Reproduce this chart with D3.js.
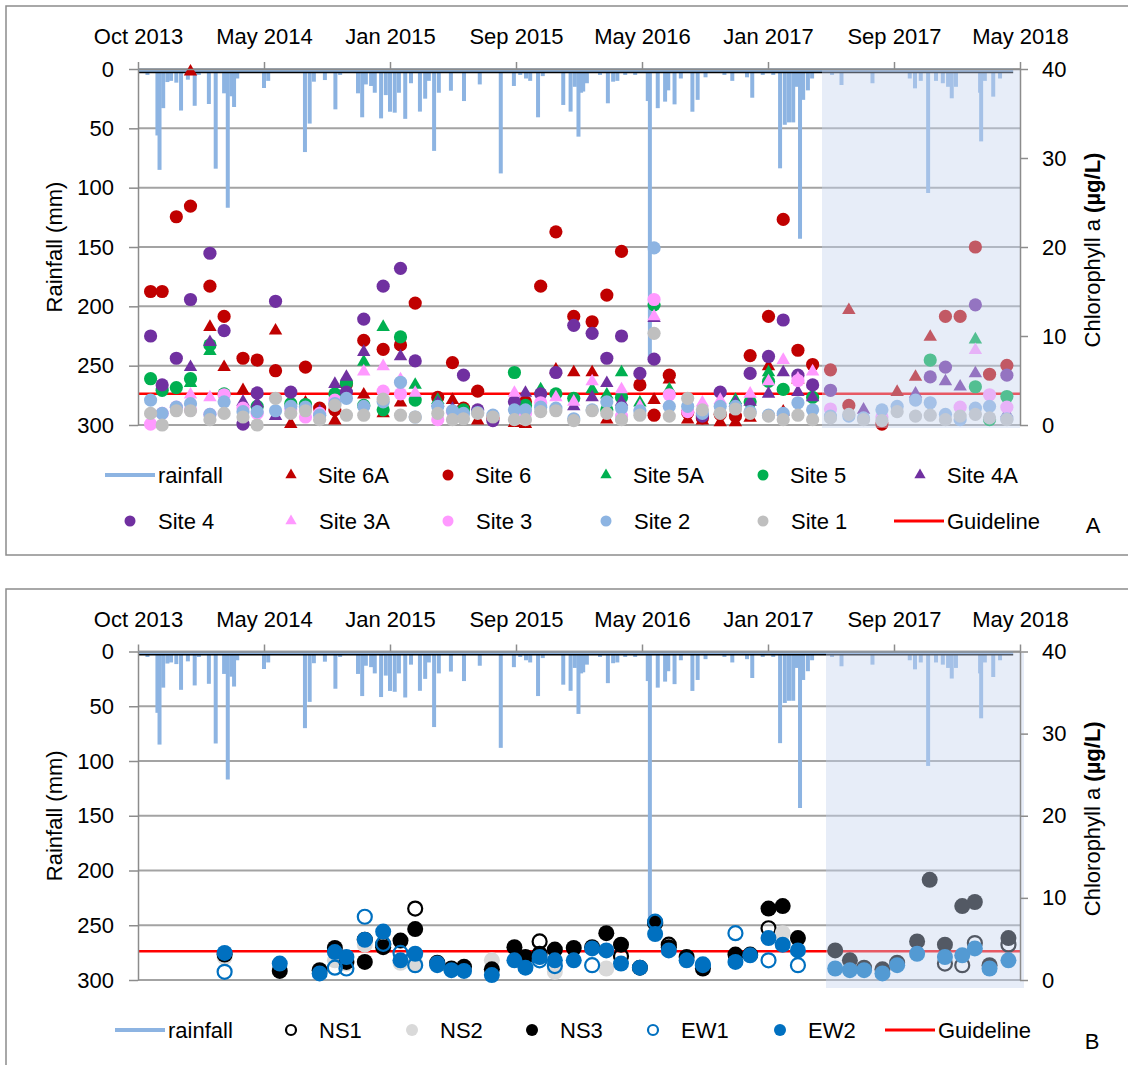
<!DOCTYPE html>
<html>
<head>
<meta charset="utf-8">
<script src="https://cdn.jsdelivr.net/npm/d3@7"></script>
<style>
  body { margin: 0; background: #ffffff; }
  text { font-family: "Liberation Sans", Arial, sans-serif; fill: #000; }
</style>
</head>
<body>
<svg id="chart" width="1128" height="1065"></svg>
<script>
// ---------- axis ticks ----------
const xTicks = ["2013-10-01","2014-05-29","2015-01-24","2015-09-21","2016-05-18","2017-01-13","2017-09-10","2018-05-08"];
const rainTicks = [0, 50, 100, 150, 200, 250, 300];
const chlTicks = [0, 10, 20, 30, 40];
const guideline = 3.5; // µg/L

// ---------- daily rainfall events (mm) ----------
const rainDates = ["2013-10-01","2013-10-19","2013-11-07","2013-11-11","2013-11-18","2013-11-26","2013-12-03","2013-12-13","2013-12-22",
  "2014-01-04","2014-01-17","2014-01-25","2014-02-13","2014-02-26","2014-03-14","2014-03-21","2014-03-28","2014-04-02","2014-04-08",
  "2014-05-29","2014-06-06","2014-08-15","2014-08-24","2014-09-01","2014-09-22","2014-10-12","2014-10-21","2014-11-24","2014-12-02",
  "2014-12-09","2014-12-19","2014-12-26","2015-01-07","2015-01-16","2015-01-24","2015-02-02","2015-02-10","2015-02-22","2015-03-05",
  "2015-03-22","2015-04-01","2015-04-08","2015-04-18","2015-04-27","2015-05-20","2015-06-14","2015-07-14","2015-08-23","2015-09-17",
  "2015-09-29","2015-10-10","2015-10-18","2015-11-02","2015-11-11","2015-12-20","2016-01-03","2016-01-11","2016-01-18","2016-01-23",
  "2016-01-27","2016-02-03","2016-02-28","2016-03-14","2016-03-24","2016-04-01","2016-04-16","2016-05-05","2016-05-29","2016-06-02",
  "2016-06-17","2016-07-01","2016-07-07","2016-07-19","2016-07-31","2016-08-22","2016-09-01","2016-09-16","2016-10-22","2016-11-06",
  "2016-12-04","2016-12-14","2017-01-03","2017-01-23","2017-02-05","2017-02-14","2017-02-22","2017-03-02","2017-03-09","2017-03-15",
  "2017-03-21","2017-03-30","2017-04-07","2017-05-15","2017-06-02","2017-07-31","2017-10-10","2017-10-20","2017-10-31","2017-11-14",
  "2017-11-29","2017-12-12","2017-12-22","2017-12-29","2018-01-06","2018-02-21","2018-02-23","2018-03-02","2018-03-18","2018-03-31",
  "2018-04-25"];
const rainMM = [0,5,56,85,33,11,10,11.5,35,
  9,31,5,29.5,84,20.5,117,23,32,8,
  16,10,70,46,10.7,9.3,34,5,20.5,40.7,
  13,14.3,20,41.6,22,36,36.8,20,42,12,
  35.9,25,10,69,20,18.3,27,13,88,14.3,
  5,8,10,40.7,6,30.3,35.9,15,57,20,
  19,12,5,28.9,10.7,10,5,5,27,247,
  33,27.5,18,29.8,8,36,26,7,5,10,
  7,24.2,5,5,83.7,47,45,45,15,143,
  26,18,8,5,13.5,12,8,16.3,10,104.5,
  10,12,15,24.7,15,20,61,10,23.3,8,
  0];

// ---------- panel A: chlorophyll a by site (µg/L) ----------
const datesA = ["2013-10-25","2013-11-16","2013-12-13","2014-01-09","2014-02-15","2014-03-14","2014-04-19","2014-05-16","2014-06-20","2014-07-19",
  "2014-08-16","2014-09-12","2014-10-11","2014-11-02","2014-12-05","2015-01-11","2015-02-13","2015-03-13","2015-04-25","2015-05-23",
  "2015-06-13","2015-07-10","2015-08-08","2015-09-18","2015-10-09","2015-11-07","2015-12-06","2016-01-09","2016-02-13","2016-03-12",
  "2016-04-09","2016-05-14","2016-06-10","2016-07-09","2016-08-13","2016-09-10","2016-10-14","2016-11-12","2016-12-10","2017-01-14",
  "2017-02-11","2017-03-11","2017-04-08","2017-05-12","2017-06-16","2017-07-14","2017-08-18","2017-09-16","2017-10-21","2017-11-18",
  "2017-12-17","2018-01-14","2018-02-12","2018-03-11","2018-04-13"];
const site6A = [null,null,null,39.7,11.0,6.5,3.9,null,10.6,0.1,
  2.5,null,0.5,null,3.4,1.3,2.5,null,null,2.8,
  null,0.5,null,0.2,0.1,null,6.2,5.9,5.9,0.6,
  null,null,2.8,5.1,0.6,0.5,0.3,0.3,0.8,6.6,
  1.5,5.1,null,null,12.9,null,null,3.7,5.4,9.9,
  null,null,null,null,null];
const site6 = [15.0,15.0,23.4,24.6,15.6,12.2,7.5,7.3,6.1,null,
  6.5,1.9,1.7,4.6,9.5,8.5,9.0,13.7,3.1,7.0,
  1.9,3.8,0.8,null,2.6,15.6,21.7,12.2,11.6,14.6,
  19.5,4.5,1.1,5.6,1.4,0.8,1.2,1.0,7.8,12.2,
  23.1,8.4,6.8,6.2,2.2,null,0.1,null,null,null,
  12.2,12.2,20.0,5.7,6.7];
const site5A = [null,null,null,4.7,8.3,null,null,null,null,null,
  null,null,null,null,7.1,11.0,null,4.5,2.8,null,
  null,null,null,null,null,4.0,null,null,4.0,3.4,
  5.9,2.5,null,4.0,null,null,null,2.8,null,5.9,
  null,null,null,null,null,null,null,null,null,null,
  null,null,9.6,null,null];
const site5 = [5.2,3.9,4.2,5.2,9.0,3.5,null,2.1,null,2.4,
  2.3,null,3.5,4.7,2.2,1.7,9.9,2.8,null,null,
  1.7,null,null,5.9,2.2,null,3.5,3.0,null,1.7,
  3.1,null,13.5,null,null,null,null,null,2.6,4.9,
  4.0,null,3.1,null,null,null,null,null,null,7.3,
  null,null,4.3,0.6,3.2];
const site4A = [null,null,null,6.5,9.3,null,2.6,2.4,1.0,null,
  null,1.5,4.6,5.4,8.2,null,7.7,null,2.5,1.8,
  null,null,null,null,3.6,null,null,2.1,3.1,4.7,
  2.6,null,12.0,null,null,null,null,2.5,2.6,3.5,
  5.9,3.7,3.1,null,null,1.7,null,null,3.5,null,
  4.9,4.3,5.8,null,1.3];
const site4 = [10.0,4.5,7.5,14.1,19.3,10.6,0.1,3.6,13.9,3.7,
  null,null,null,3.7,11.9,15.6,17.6,7.2,null,null,
  5.6,1.7,0.5,2.6,null,3.5,5.9,11.2,10.3,7.5,
  10.0,5.8,7.4,null,null,1.0,3.7,null,5.8,7.7,
  11.8,5.6,4.5,3.9,null,null,null,null,null,5.4,
  6.5,null,13.5,null,5.6];
const site3A = [null,null,null,3.4,3.1,null,null,null,null,null,
  null,null,null,null,6.0,6.6,5.1,3.6,null,null,
  null,null,null,3.6,null,null,3.1,2.6,4.9,null,
  4.0,2.1,12.2,null,null,2.5,2.8,null,3.5,4.9,
  7.3,5.2,6.0,null,null,null,null,null,null,null,
  null,null,8.4,null,null];
const site3 = [0.1,1.3,2.0,1.7,1.2,3.4,1.9,1.3,null,1.8,
  0.9,1.3,2.8,null,null,3.8,3.5,null,0.6,1.5,
  null,null,null,null,1.3,2.5,null,null,null,null,
  1.0,null,14.1,3.4,1.5,null,null,null,null,null,
  null,5.0,null,1.8,null,null,0.9,null,null,null,
  null,2.0,null,3.4,2.0];
const site2 = [2.8,1.3,2.0,2.4,1.2,2.6,1.5,1.5,1.6,2.1,
  2.0,1.1,2.4,3.0,2.1,2.6,4.8,0.9,2.1,1.6,
  1.3,1.4,1.1,1.7,1.7,2.0,1.9,0.7,1.7,2.6,
  1.9,1.6,19.9,2.1,2.1,1.3,2.1,2.1,1.5,1.1,
  1.3,2.5,1.7,1.0,1.0,0.8,1.7,2.1,2.8,2.5,
  1.2,0.6,1.9,2.1,0.7];
const site1 = [1.3,0.0,1.6,1.6,0.6,1.3,0.9,0.0,3.0,1.3,
  1.6,0.6,2.2,1.1,1.1,2.9,1.1,0.9,1.3,0.6,
  0.7,1.3,0.9,0.6,0.6,1.5,1.6,0.5,1.6,1.3,
  0.6,1.1,10.3,1.0,3.0,1.7,1.3,1.8,1.3,1.0,
  0.6,1.1,0.6,0.8,1.2,0.6,0.5,1.5,1.0,1.1,
  0.6,1.0,1.2,0.8,0.6];

// ---------- panel B: chlorophyll a by transect station (µg/L) ----------
const datesB = ["2014-03-15","2014-06-28","2014-09-12","2014-10-11","2014-11-02","2014-12-07","2015-01-11","2015-02-13","2015-03-13","2015-04-24",
  "2015-05-21","2015-06-14","2015-08-06","2015-09-18","2015-10-09","2015-11-05","2015-12-04","2016-01-09","2016-02-13","2016-03-11",
  "2016-04-08","2016-05-14","2016-06-12","2016-07-08","2016-08-11","2016-09-11","2016-11-12","2016-12-10","2017-01-14","2017-02-10",
  "2017-03-11","2017-05-21","2017-06-18","2017-07-15","2017-08-19","2017-09-16","2017-10-24","2017-11-17","2017-12-16","2018-01-18",
  "2018-02-11","2018-03-11","2018-04-16"];
const ns1 = [null,null,null,null,null,4.9,4.3,null,8.7,null,
  null,null,null,null,null,4.7,null,null,null,null,
  2.9,null,7.0,4.3,null,null,null,null,6.3,null,
  null,null,null,null,null,null,null,null,2.0,1.8,
  4.5,null,4.3];
const ns2 = [2.8,null,null,2.4,2.0,4.3,null,2.1,2.0,null,
  null,null,2.4,null,1.8,null,1.0,null,null,1.4,
  null,null,null,null,null,null,null,null,null,5.7,
  null,null,null,null,null,null,null,null,null,null,
  null,null,null];
const ns3 = [3.1,1.1,1.2,3.9,2.2,2.2,4.0,4.8,6.2,2.1,
  1.4,1.6,1.3,4.0,2.8,3.2,3.7,3.9,4.0,5.7,
  4.3,1.5,6.9,4.0,2.8,1.4,3.1,3.1,8.7,9.0,
  5.1,3.6,2.4,1.5,1.3,2.1,4.7,12.2,4.3,9.0,
  9.5,1.8,5.1];
const ew1 = [1.0,null,null,1.5,1.4,7.7,4.4,3.3,1.8,2.0,
  null,null,null,null,null,2.4,1.7,null,1.8,null,
  null,null,7.1,null,null,1.9,5.7,null,2.4,null,
  1.8,null,null,null,null,null,null,null,null,null,
  null,null,null];
const ew2 = [3.3,2.0,0.8,3.4,2.8,4.9,5.9,2.4,3.2,1.8,
  1.2,1.1,0.6,2.4,1.5,2.8,2.4,2.4,3.85,3.6,
  2.0,1.5,5.6,3.6,2.4,1.8,2.2,3.0,5.1,4.3,
  3.6,1.4,1.2,1.2,0.8,1.8,3.2,null,2.8,3.0,
  3.85,1.4,2.4];

// ---------- drawing ----------
const parse = d3.utcParse("%Y-%m-%d");
const fmt = d3.utcFormat("%b %Y");
const svg = d3.select("#chart");

const x = d3.scaleUtc()
  .domain([parse(xTicks[0]), parse(xTicks[xTicks.length - 1])])
  .range([138, 1020]);

const RAIN_COLOR = "#8db4e2";
const AXIS_COLOR = "#8c8c8c";
const GRID_COLOR = "#a3a3a3";

const seriesA = [
  { name: "Site 6A", values: site6A, shape: "triangle", fill: "#c00000" },
  { name: "Site 6",  values: site6,  shape: "circle",   fill: "#c00000" },
  { name: "Site 5A", values: site5A, shape: "triangle", fill: "#00b050" },
  { name: "Site 5",  values: site5,  shape: "circle",   fill: "#00b050" },
  { name: "Site 4A", values: site4A, shape: "triangle", fill: "#7030a0" },
  { name: "Site 4",  values: site4,  shape: "circle",   fill: "#7030a0" },
  { name: "Site 3A", values: site3A, shape: "triangle", fill: "#ff99ff" },
  { name: "Site 3",  values: site3,  shape: "circle",   fill: "#ff99ff" },
  { name: "Site 2",  values: site2,  shape: "circle",   fill: "#8db4e2" },
  { name: "Site 1",  values: site1,  shape: "circle",   fill: "#bfbfbf" }
];
const seriesB = [
  { name: "NS1", values: ns1, shape: "ring",   stroke: "#000000" },
  { name: "NS2", values: ns2, shape: "circle", fill: "#d9d9d9" },
  { name: "NS3", values: ns3, shape: "circle", fill: "#000000" },
  { name: "EW1", values: ew1, shape: "ring",   stroke: "#0070c0" },
  { name: "EW2", values: ew2, shape: "circle", fill: "#0070c0" }
];

function marker(sel, s, r, triSize) {
  if (s.shape === "triangle") {
    sel.append("path")
      .attr("d", d3.symbol(d3.symbolTriangle, triSize)())
      .attr("fill", s.fill);
  } else if (s.shape === "ring") {
    sel.append("circle").attr("r", r - 1).attr("fill", "none")
      .attr("stroke", s.stroke).attr("stroke-width", 2.2);
  } else {
    sel.append("circle").attr("r", r).attr("fill", s.fill);
  }
}

function drawPanel(p) {
  const g = svg.append("g");
  const yR = d3.scaleLinear().domain([0, 300]).range([p.top, p.bottom]);
  const yC = d3.scaleLinear().domain([0, 40]).range([p.bottom, p.top]);

  // frame
  g.append("rect").attr("x", 6).attr("y", p.boxTop).attr("width", 1140).attr("height", p.boxH)
    .attr("fill", "none").attr("stroke", "#8c8c8c").attr("stroke-width", 1.5);

  // horizontal gridlines on rainfall ticks
  g.append("g").selectAll("line").data(rainTicks).join("line")
    .attr("x1", 138).attr("x2", 1020)
    .attr("y1", d => yR(d)).attr("y2", d => yR(d))
    .attr("stroke", GRID_COLOR).attr("stroke-width", 2);

  // rainfall (hanging from the top)
  const rain = rainDates.map((d, i) => ({ d: parse(d), v: rainMM[i] }));
  const rg = g.append("g");
  rg.append("line")
    .attr("x1", x(rain[0].d)).attr("x2", x(rain[rain.length - 1].d))
    .attr("y1", yR(0) + 1.5).attr("y2", yR(0) + 1.5)
    .attr("stroke", RAIN_COLOR).attr("stroke-width", 3.5);
  rg.selectAll("line.spike").data(rain.filter(r => r.v > 0)).join("line")
    .attr("class", "spike")
    .attr("x1", r => x(r.d)).attr("x2", r => x(r.d))
    .attr("y1", yR(0)).attr("y2", r => yR(r.v))
    .attr("stroke", RAIN_COLOR).attr("stroke-width", 4);
  rg.append("line")
    .attr("x1", x(rain[0].d)).attr("x2", x(rain[rain.length - 1].d))
    .attr("y1", yR(3)).attr("y2", yR(3))
    .attr("stroke", "#000").attr("stroke-width", 1.6);

  // guideline
  g.append("line").attr("x1", 138).attr("x2", 1020)
    .attr("y1", yC(guideline)).attr("y2", yC(guideline))
    .attr("stroke", "#ff0000").attr("stroke-width", 2.5);

  // chlorophyll series
  p.series.forEach(s => {
    const pts = p.dates.map((d, i) => ({ d: parse(d), v: s.values[i] })).filter(q => q.v != null);
    const sg = g.append("g");
    pts.forEach(q => {
      const m = sg.append("g").attr("transform", `translate(${x(q.d)},${yC(q.v)})`);
      marker(m, s, p.r, p.tri);
    });
  });

  // shaded period
  g.append("rect").attr("x", p.shade[0]).attr("y", p.shade[2])
    .attr("width", p.shade[1] - p.shade[0]).attr("height", p.shade[3] - p.shade[2])
    .attr("fill", "rgb(198,213,238)").attr("fill-opacity", 0.42);

  // axes
  const styleAxis = a => {
    a.selectAll("path.domain").attr("stroke", AXIS_COLOR).attr("stroke-width", 1.5);
    a.selectAll(".tick line").attr("stroke", AXIS_COLOR).attr("stroke-width", 1.5);
    a.selectAll("text").attr("font-size", 22).attr("fill", "#000")
      .attr("font-family", '"Liberation Sans", Arial, sans-serif');
  };
  const left = g.append("g").attr("transform", "translate(138,0)")
    .call(d3.axisLeft(yR).tickValues(rainTicks).tickSize(9).tickPadding(15).tickSizeOuter(0));
  styleAxis(left);
  const top = g.append("g").attr("transform", `translate(0,${p.top})`)
    .call(d3.axisTop(x).tickValues(xTicks.map(parse)).tickFormat(fmt).tickSize(7).tickPadding(18).tickSizeOuter(0));
  styleAxis(top);
  const right = g.append("g").attr("transform", "translate(1020,0)")
    .call(d3.axisRight(yC).tickValues(chlTicks).tickSize(8).tickPadding(14).tickSizeOuter(0));
  styleAxis(right);

  // axis titles
  const mid = (p.top + p.bottom) / 2;
  g.append("text").attr("transform", `translate(54,${mid}) rotate(-90)`)
    .attr("text-anchor", "middle").attr("dominant-baseline", "central")
    .attr("font-size", 22).text("Rainfall (mm)");
  const rt = g.append("text").attr("transform", `translate(1092,${mid + 3}) rotate(-90)`)
    .attr("text-anchor", "middle").attr("dominant-baseline", "central")
    .attr("font-size", 22);
  rt.append("tspan").text("Chlorophyll a ");
  rt.append("tspan").attr("font-weight", "bold").text("(µg/L)");

  // legend
  const lg = g.append("g");
  p.legend.forEach(item => {
    const it = lg.append("g").attr("transform", `translate(${item.cx},${item.cy})`);
    if (item.kind === "line") {
      it.append("line").attr("x1", -25).attr("x2", 25).attr("y1", 0).attr("y2", 0)
        .attr("stroke", item.color).attr("stroke-width", item.w);
      it.append("text").attr("x", 28).attr("dominant-baseline", "central")
        .attr("font-size", 22).text(item.name);
    } else {
      marker(it, item.s, p.lr, p.ltri);
      it.append("text").attr("x", item.dx).attr("dominant-baseline", "central")
        .attr("font-size", 22).text(item.s.name);
    }
  });
  g.append("text").attr("x", p.letter[0]).attr("y", p.letter[1])
    .attr("text-anchor", "middle").attr("dominant-baseline", "central")
    .attr("font-size", 22).text(p.id);
}

// legend layout, panel A: two rows of six
const colA = [130, 291, 448, 606, 763, 920];
const legendA = [
  { kind: "line", name: "rainfall", color: RAIN_COLOR, w: 4, cx: colA[0], cy: 475 },
  ...seriesA.slice(0, 5).map((s, i) => ({ kind: "marker", s, cx: colA[i + 1], cy: 475, dx: 27 })),
  ...seriesA.slice(5).map((s, i) => ({ kind: "marker", s, cx: colA[i], cy: 521, dx: 28 })),
  { kind: "line", name: "Guideline", color: "#ff0000", w: 3, cx: colA[5] - 1, cy: 521 }
];
const colB = [140, 291, 412, 532, 653, 780, 910];
const legendB = [
  { kind: "line", name: "rainfall", color: RAIN_COLOR, w: 4, cx: colB[0], cy: 1030 },
  ...seriesB.map((s, i) => ({ kind: "marker", s, cx: colB[i + 1], cy: 1030, dx: 28 })),
  { kind: "line", name: "Guideline", color: "#ff0000", w: 3, cx: colB[6], cy: 1030 }
];

drawPanel({
  id: "A", top: 69, bottom: 425, boxTop: 6, boxH: 549,
  dates: datesA, series: seriesA, r: 6.6, tri: 78, lr: 5.5, ltri: 55,
  shade: [822, 1020, 69, 428], legend: legendA, letter: [1093, 525]
});
drawPanel({
  id: "B", top: 651.5, bottom: 980, boxTop: 589, boxH: 500,
  dates: datesB, series: seriesB, r: 8, tri: 78, lr: 6, ltri: 55,
  shade: [826, 1024, 653, 988], legend: legendB, letter: [1092, 1041]
});
</script>
</body>
</html>
